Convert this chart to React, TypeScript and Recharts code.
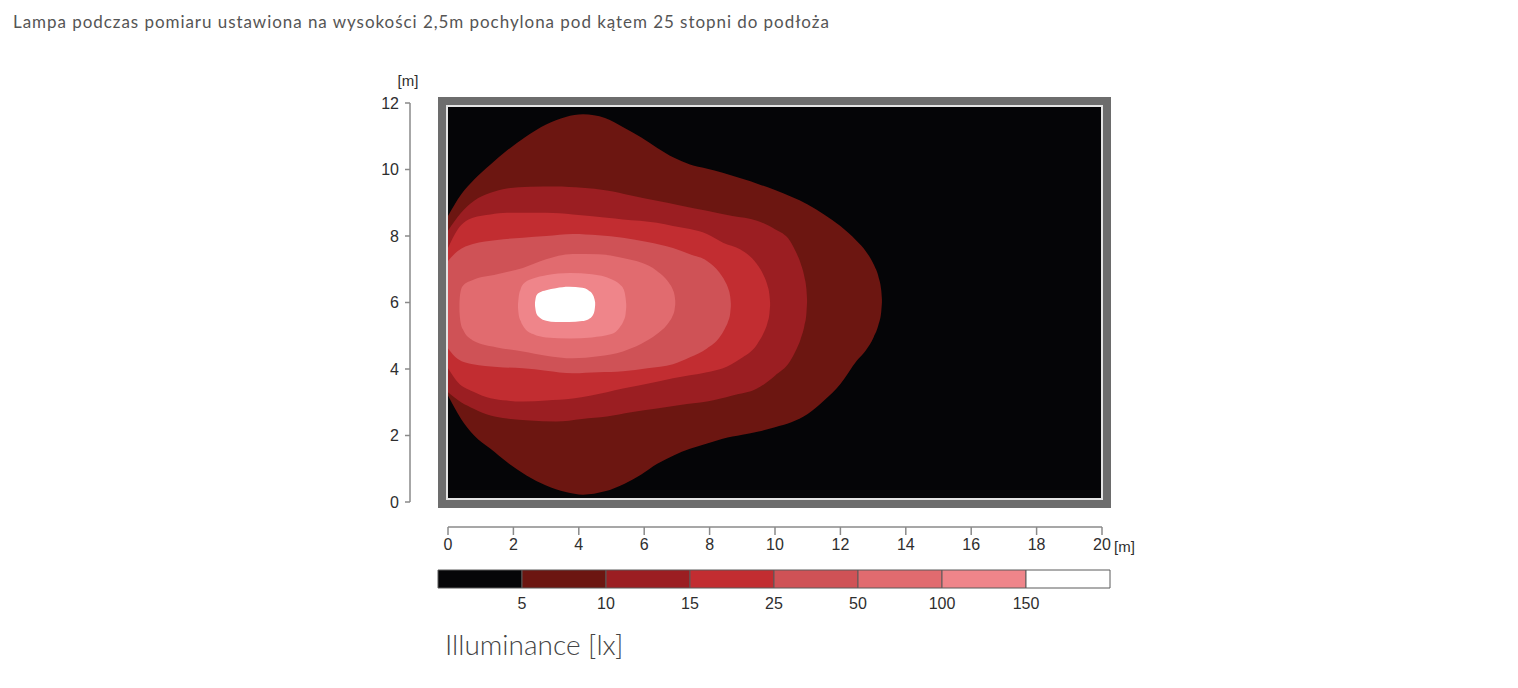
import React from 'react'
import { ComposedChart, Area, XAxis, YAxis, BarChart, Bar } from 'recharts'

const xTicks = [0, 2, 4, 6, 8, 10, 12, 14, 16, 18, 20]
const yTicks = [0, 2, 4, 6, 8, 10, 12]

const levels = [5, 10, 15, 25, 50, 100, 150]
const bandColors = ['#060608', '#6c1611', '#9b1e22', '#c22d31', '#cf5256', '#e16b6f', '#ef858a', '#ffffff']

// isolines: [x (m), lower y (m), upper y (m)]
const iso5 = [
  [0, 3.2, 8.6], [0.4, 2.5, 9.25], [0.8, 2.0, 9.7], [1.3, 1.6, 10.15], [1.8, 1.2, 10.57],
  [2.4, 0.8, 11.0], [3.0, 0.5, 11.35], [3.6, 0.3, 11.58], [4.13, 0.22, 11.66], [4.8, 0.32, 11.55],
  [5.4, 0.55, 11.25], [5.9, 0.82, 10.97], [6.4, 1.15, 10.65], [6.9, 1.4, 10.36], [7.4, 1.6, 10.15],
  [7.9, 1.75, 10.03], [8.4, 1.9, 9.9], [9.0, 2.02, 9.72], [9.5, 2.12, 9.56], [10.0, 2.25, 9.38],
  [10.5, 2.4, 9.18], [11.0, 2.65, 8.95], [11.5, 3.05, 8.65], [12.0, 3.55, 8.3], [12.5, 4.25, 7.85],
  [12.77, 4.55, 7.55], [13.02, 4.96, 7.14], [13.17, 5.35, 6.75], [13.25, 5.74, 6.36], [13.27, 6.0, 6.1],
]
const iso10 = [
  [0, 3.3, 8.16], [0.4, 3.0, 8.7], [0.8, 2.8, 9.06], [1.3, 2.6, 9.3], [1.8, 2.51, 9.43],
  [2.5, 2.45, 9.48], [3.3, 2.42, 9.49], [4.1, 2.5, 9.45], [4.86, 2.57, 9.37], [5.6, 2.7, 9.22],
  [6.39, 2.81, 9.06], [7.1, 2.92, 8.92], [7.92, 3.02, 8.76], [8.7, 3.2, 8.6], [9.45, 3.41, 8.46],
  [10.0, 3.8, 8.2], [10.46, 4.23, 7.85], [10.63, 4.54, 7.54], [10.78, 4.89, 7.19], [10.9, 5.31, 6.77],
  [10.96, 5.67, 6.41], [10.98, 6.0, 6.1],
]
const iso15 = [
  [0, 4.02, 7.64], [0.3, 3.6, 8.2], [0.76, 3.32, 8.55], [1.3, 3.12, 8.65], [1.8, 3.05, 8.7],
  [2.29, 3.02, 8.7], [3.0, 3.05, 8.7], [3.82, 3.11, 8.65], [4.86, 3.3, 8.55], [5.35, 3.41, 8.5],
  [6.39, 3.62, 8.4], [6.88, 3.72, 8.3], [7.92, 3.9, 8.06], [8.41, 4.02, 7.8], [8.93, 4.3, 7.6],
  [9.45, 4.74, 7.15], [9.65, 5.08, 6.82], [9.77, 5.39, 6.51], [9.83, 5.67, 6.23], [9.85, 5.9, 6.0],
]
const iso25 = [
  [0, 4.62, 7.25], [0.3, 4.3, 7.55], [0.76, 4.14, 7.76], [1.5, 4.06, 7.88], [2.29, 4.02, 7.95],
  [3.0, 3.95, 8.0], [3.82, 3.87, 8.06], [4.6, 3.9, 8.02], [5.35, 3.93, 7.95], [6.1, 4.02, 7.82],
  [6.88, 4.14, 7.64], [7.4, 4.35, 7.45], [7.92, 4.62, 7.25], [8.3, 4.95, 6.9], [8.47, 5.22, 6.64],
  [8.57, 5.44, 6.42], [8.63, 5.68, 6.18], [8.65, 5.88, 5.98],
]
const iso50 = [
  [0.35, 5.75, 6.0], [0.37, 5.5, 6.25], [0.45, 5.2, 6.5], [0.76, 4.86, 6.68], [1.5, 4.65, 6.85],
  [2.29, 4.53, 7.04], [3.0, 4.4, 7.3], [3.82, 4.32, 7.46], [4.6, 4.38, 7.45], [5.35, 4.53, 7.34],
  [5.9, 4.75, 7.2], [6.39, 5.05, 6.95], [6.75, 5.4, 6.6], [6.87, 5.6, 6.4], [6.93, 5.79, 6.21],
  [6.95, 5.95, 6.05],
]
const iso100 = [
  [2.14, 5.85, 5.95], [2.16, 5.65, 6.15], [2.22, 5.45, 6.4], [2.35, 5.22, 6.6], [2.6, 5.05, 6.72],
  [3.0, 4.95, 6.82], [3.73, 4.92, 6.89], [4.4, 4.95, 6.85], [5.0, 5.05, 6.7], [5.25, 5.25, 6.55],
  [5.37, 5.45, 6.4], [5.43, 5.65, 6.15], [5.45, 5.85, 5.95],
]
const iso150 = [
  [2.66, 5.9, 6.0], [2.7, 5.68, 6.2], [2.8, 5.55, 6.3], [3.0, 5.45, 6.37], [3.3, 5.41, 6.43],
  [3.7, 5.41, 6.47], [4.1, 5.44, 6.44], [4.3, 5.5, 6.36], [4.42, 5.6, 6.25], [4.48, 5.75, 6.1],
  [4.5, 5.92, 6.0],
]

const isolines = [iso5, iso10, iso15, iso25, iso50, iso100, iso150]

const toRows = (pts: number[][]) => pts.map(([x, lo, hi]) => ({ x, range: [lo, hi] }))

const colorbarRow = [Object.fromEntries(bandColors.map((_, i) => [`b${i}`, 1]))]

const axisFont = 'Liberation Sans, Arial, sans-serif'
const axisTick = { fill: '#2e2e2e', fontSize: 16, fontFamily: axisFont }

export default function App() {
  return (
    <div style={{ position: 'relative', width: 1502, height: 672, background: '#fff' }}>
      <div
        style={{
          position: 'absolute', left: 5, top: 4, fontFamily: 'Lato, sans-serif', fontSize: 17,
          lineHeight: '20px', color: '#555', letterSpacing: 0.95, whiteSpace: 'nowrap',
        }}
      >
        Lampa podczas pomiaru ustawiona na wysokości 2,5m pochylona pod kątem 25 stopni do podłoża
      </div>

      {/* plot frame + black background */}
      <div
        style={{
          position: 'absolute', left: 430, top: 89, width: 673, height: 411, boxSizing: 'border-box',
          border: '8px solid #6d6d6d', boxShadow: 'inset 0 0 0 2px #e4e4e4', background: '#050507',
        }}
      />

      <div style={{ position: 'absolute', left: 332, top: 52 }}>
        <ComposedChart width={802} height={502} margin={{ top: 43, right: 40, bottom: 5, left: 30 }}>
          <XAxis xAxisId="gap" type="number" domain={[0, 1]} height={25} tick={false} axisLine={false} tickLine={false} />
          <XAxis
            xAxisId="m" dataKey="x" type="number" domain={[0, 20]} ticks={xTicks} interval={0} height={30}
            tickSize={8} tickMargin={4} stroke="#8a8a8a" strokeWidth={1.5} tick={axisTick}
            label={{ value: '[m]', position: 'right', offset: 12, dy: 5, fill: '#2e2e2e', fontSize: 15, fontFamily: axisFont }}
          />
          <YAxis yAxisId="gap" type="number" domain={[0, 1]} width={38} tick={false} axisLine={false} tickLine={false} />
          <YAxis
            yAxisId="m" type="number" domain={[0, 12]} ticks={yTicks} interval={0} width={40}
            tickSize={5} tickMargin={6} stroke="#8a8a8a" strokeWidth={1.5} tick={axisTick}
            label={{ value: '[m]', position: 'top', offset: 17, dx: 18, fill: '#2e2e2e', fontSize: 15, fontFamily: axisFont }}
          />
          {isolines.map((pts, i) => (
            <Area
              key={levels[i]}
              xAxisId="m"
              yAxisId="m"
              data={toRows(pts)}
              dataKey="range"
              type="monotone"
              fill={bandColors[i + 1]}
              fillOpacity={1}
              stroke="none"
              dot={false}
              activeDot={false}
              isAnimationActive={false}
            />
          ))}
        </ComposedChart>
      </div>

      <div style={{ position: 'absolute', left: 422, top: 552 }}>
        <BarChart width={700} height={60} layout="vertical" data={colorbarRow} barCategoryGap={0} margin={{ top: 10, right: 20, bottom: 0, left: 8 }}>
          <XAxis
            type="number" domain={[0, 8]} ticks={[1, 2, 3, 4, 5, 6, 7]} interval={0} height={32}
            axisLine={false} tickLine={false} tickSize={0} tickMargin={10}
            tickFormatter={(v: number) => String(levels[v - 1])}
            tick={axisTick}
          />
          <YAxis type="category" hide />
          {bandColors.map((c, i) => (
            <Bar key={c} dataKey={`b${i}`} stackId="bar" fill={c} stroke="#5a5a5a" strokeWidth={1} isAnimationActive={false} />
          ))}
        </BarChart>
      </div>

      <div
        style={{
          position: 'absolute', left: 437, top: 619, fontFamily: 'Lato, sans-serif', fontSize: 28, fontWeight: 300,
          lineHeight: '34px', color: '#444', whiteSpace: 'nowrap',
        }}
      >
        Illuminance [lx]
      </div>
    </div>
  )
}
